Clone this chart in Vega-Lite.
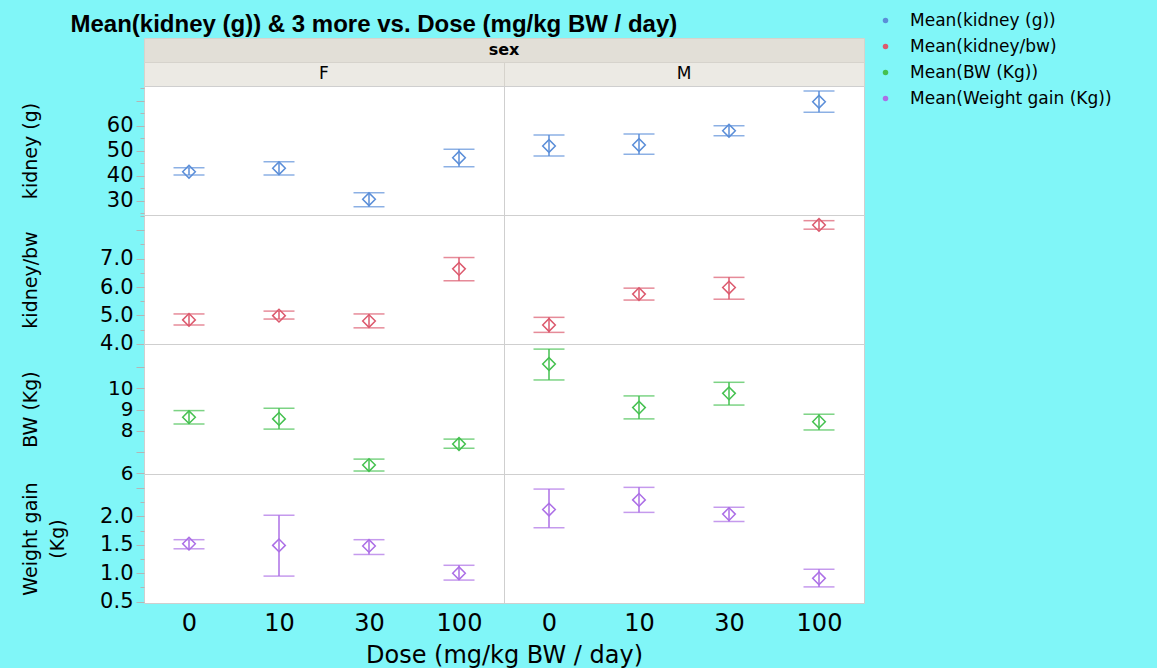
{
  "$schema": "https://vega.github.io/schema/vega-lite/v6.json",
  "background": "#80f6f8",
  "padding": {"left": 20, "top": 12, "right": 45, "bottom": 0},
  "title": {"text": "Mean(kidney (g)) & 3 more vs. Dose (mg/kg BW / day)", "font": "Liberation Sans", "fontSize": 24, "fontWeight": "bold", "color": "black", "anchor": "start", "frame": "bounds", "dx": 50, "offset": -25},
  "data": {"values": [
    {"measure": "Mean(kidney (g))", "sex": "F", "dose": 0, "key": "F-0", "mean": 41.6, "lo": 40.3, "hi": 43.2},
    {"measure": "Mean(kidney (g))", "sex": "F", "dose": 10, "key": "F-10", "mean": 43.0, "lo": 40.3, "hi": 45.6},
    {"measure": "Mean(kidney (g))", "sex": "F", "dose": 30, "key": "F-30", "mean": 30.6, "lo": 27.6, "hi": 33.2},
    {"measure": "Mean(kidney (g))", "sex": "F", "dose": 100, "key": "F-100", "mean": 47.2, "lo": 43.6, "hi": 50.6},
    {"measure": "Mean(kidney (g))", "sex": "M", "dose": 0, "key": "M-0", "mean": 51.9, "lo": 47.9, "hi": 56.3},
    {"measure": "Mean(kidney (g))", "sex": "M", "dose": 10, "key": "M-10", "mean": 52.3, "lo": 48.6, "hi": 56.7},
    {"measure": "Mean(kidney (g))", "sex": "M", "dose": 30, "key": "M-30", "mean": 58.0, "lo": 56.0, "hi": 60.0},
    {"measure": "Mean(kidney (g))", "sex": "M", "dose": 100, "key": "M-100", "mean": 69.6, "lo": 65.4, "hi": 73.9},
    {"measure": "Mean(kidney/bw)", "sex": "F", "dose": 0, "key": "F-0", "mean": 4.84, "lo": 4.66, "hi": 5.05},
    {"measure": "Mean(kidney/bw)", "sex": "F", "dose": 10, "key": "F-10", "mean": 4.99, "lo": 4.87, "hi": 5.15},
    {"measure": "Mean(kidney/bw)", "sex": "F", "dose": 30, "key": "F-30", "mean": 4.80, "lo": 4.56, "hi": 5.05},
    {"measure": "Mean(kidney/bw)", "sex": "F", "dose": 100, "key": "F-100", "mean": 6.64, "lo": 6.22, "hi": 7.04},
    {"measure": "Mean(kidney/bw)", "sex": "M", "dose": 0, "key": "M-0", "mean": 4.66, "lo": 4.40, "hi": 4.93},
    {"measure": "Mean(kidney/bw)", "sex": "M", "dose": 10, "key": "M-10", "mean": 5.75, "lo": 5.54, "hi": 5.96},
    {"measure": "Mean(kidney/bw)", "sex": "M", "dose": 30, "key": "M-30", "mean": 5.98, "lo": 5.57, "hi": 6.34},
    {"measure": "Mean(kidney/bw)", "sex": "M", "dose": 100, "key": "M-100", "mean": 8.19, "lo": 8.04, "hi": 8.34},
    {"measure": "Mean(BW (Kg))", "sex": "F", "dose": 0, "key": "F-0", "mean": 8.64, "lo": 8.32, "hi": 8.95},
    {"measure": "Mean(BW (Kg))", "sex": "F", "dose": 10, "key": "F-10", "mean": 8.56, "lo": 8.08, "hi": 9.06},
    {"measure": "Mean(BW (Kg))", "sex": "F", "dose": 30, "key": "F-30", "mean": 6.39, "lo": 6.11, "hi": 6.67},
    {"measure": "Mean(BW (Kg))", "sex": "F", "dose": 100, "key": "F-100", "mean": 7.38, "lo": 7.18, "hi": 7.61},
    {"measure": "Mean(BW (Kg))", "sex": "M", "dose": 0, "key": "M-0", "mean": 11.14, "lo": 10.39, "hi": 11.84},
    {"measure": "Mean(BW (Kg))", "sex": "M", "dose": 10, "key": "M-10", "mean": 9.09, "lo": 8.56, "hi": 9.64},
    {"measure": "Mean(BW (Kg))", "sex": "M", "dose": 30, "key": "M-30", "mean": 9.76, "lo": 9.21, "hi": 10.28},
    {"measure": "Mean(BW (Kg))", "sex": "M", "dose": 100, "key": "M-100", "mean": 8.43, "lo": 8.04, "hi": 8.78},
    {"measure": "Mean(Weight gain (Kg))", "sex": "F", "dose": 0, "key": "F-0", "mean": 1.52, "lo": 1.43, "hi": 1.59},
    {"measure": "Mean(Weight gain (Kg))", "sex": "F", "dose": 10, "key": "F-10", "mean": 1.49, "lo": 0.95, "hi": 2.02},
    {"measure": "Mean(Weight gain (Kg))", "sex": "F", "dose": 30, "key": "F-30", "mean": 1.48, "lo": 1.33, "hi": 1.59},
    {"measure": "Mean(Weight gain (Kg))", "sex": "F", "dose": 100, "key": "F-100", "mean": 1.00, "lo": 0.88, "hi": 1.14},
    {"measure": "Mean(Weight gain (Kg))", "sex": "M", "dose": 0, "key": "M-0", "mean": 2.12, "lo": 1.80, "hi": 2.48},
    {"measure": "Mean(Weight gain (Kg))", "sex": "M", "dose": 10, "key": "M-10", "mean": 2.29, "lo": 2.07, "hi": 2.51},
    {"measure": "Mean(Weight gain (Kg))", "sex": "M", "dose": 30, "key": "M-30", "mean": 2.04, "lo": 1.91, "hi": 2.16},
    {"measure": "Mean(Weight gain (Kg))", "sex": "M", "dose": 100, "key": "M-100", "mean": 0.91, "lo": 0.76, "hi": 1.07}
  ]},
  "spacing": 0,
  "bounds": "flush",
  "vconcat": [
    {
      "width": 720, "height": 24,
      "data": {"values": [{"h": "sex"}]},
      "view": {"fill": "#e2dfd7", "stroke": "#d6d3cc"},
      "mark": {"type": "text", "font": "DejaVu Sans", "fontSize": 16, "fontWeight": "bold", "color": "black"},
      "encoding": {"text": {"field": "h"}}
    },
    {
      "width": 720, "height": 24,
      "transform": [{"filter": "datum.measure === 'Mean(kidney (g))' && datum.dose === 0"}],
      "view": {"fill": "#eceae4", "stroke": "#d6d3cc"},
      "mark": {"type": "text", "font": "DejaVu Sans", "fontSize": 17, "color": "black"},
      "encoding": {
        "x": {"field": "sex", "type": "nominal", "scale": {"type": "band", "paddingInner": 0, "paddingOuter": 0},
              "axis": {"labels": false, "ticks": false, "domain": false, "title": null, "grid": true, "tickBand": "extent", "gridColor": "#d6d3cc", "gridOpacity": {"condition": {"test": "datum.value === 'F'", "value": 1}, "value": 0}}},
        "text": {"field": "sex"}
      }
    },
    {
      "width": 720, "height": 129,
      "transform": [{"filter": "datum.measure === 'Mean(kidney (g))'"}],
      "layer": [
        {"mark": {"type": "errorbar", "ticks": true, "size": 31, "thickness": 1.5},
         "encoding": {
           "x": {"field": "key", "type": "ordinal", "scale": {"type": "band", "domain": ["F-0","F-10","F-30","F-100","M-0","M-10","M-30","M-100"], "paddingInner": 0, "paddingOuter": 0},
                 "axis": {"labels": false, "ticks": false, "domain": false, "title": null, "grid": true, "tickBand": "extent", "gridColor": "#cfcfcf", "gridOpacity": {"condition": {"test": "datum.value === 'F-100'", "value": 1}, "value": 0}}},
           "y": {"field": "lo", "type": "quantitative", "title": "kidney (g)", "scale": {"domain": [24.3, 75.9], "nice": false, "zero": false},
                 "axis": {"values": [25,30,35,40,45,50,55,60,65,70,75], "tickCount": 50, "format": "d", "labelOverlap": false, "labelExpr": "datum.value % 10 === 0 && datum.value <= 60 ? datum.label : ''",
                          "labelFontSize": {"condition": {"test": "datum.value % 10 === 0 && datum.value <= 60", "value": 21}, "value": 0},
                          "tickSize": {"condition": {"test": "datum.value % 10 === 0", "value": 8}, "value": 4}}},
           "y2": {"field": "hi"},
           "color": {"field": "measure", "type": "nominal", "title": null, "scale": {"domain": ["Mean(kidney (g))", "Mean(kidney/bw)", "Mean(BW (Kg))", "Mean(Weight gain (Kg))"]}}}},
        {"mark": {"type": "point", "shape": "diamond", "filled": false, "size": 160, "strokeWidth": 1.5, "opacity": 1},
         "encoding": {
           "x": {"field": "key", "type": "ordinal"},
           "y": {"field": "mean", "type": "quantitative", "title": "kidney (g)"},
           "color": {"field": "measure", "type": "nominal", "title": null}}}
      ]
    },
    {
      "width": 720, "height": 129,
      "transform": [{"filter": "datum.measure === 'Mean(kidney/bw)'"}],
      "layer": [
        {"mark": {"type": "errorbar", "ticks": true, "size": 31, "thickness": 1.5},
         "encoding": {
           "x": {"field": "key", "type": "ordinal", "scale": {"type": "band", "domain": ["F-0","F-10","F-30","F-100","M-0","M-10","M-30","M-100"], "paddingInner": 0, "paddingOuter": 0},
                 "axis": {"labels": false, "ticks": false, "domain": false, "title": null, "grid": true, "tickBand": "extent", "gridColor": "#cfcfcf", "gridOpacity": {"condition": {"test": "datum.value === 'F-100'", "value": 1}, "value": 0}}},
           "y": {"field": "lo", "type": "quantitative", "title": "kidney/bw", "scale": {"domain": [3.99, 8.54], "nice": false, "zero": false},
                 "axis": {"values": [4,4.5,5,5.5,6,6.5,7,7.5,8,8.5], "tickCount": 50, "format": ".1f", "labelOverlap": false, "labelExpr": "abs(datum.value - round(datum.value)) < 0.01 && datum.value < 7.5 ? datum.label : ''",
                          "labelFontSize": {"condition": {"test": "abs(datum.value - round(datum.value)) < 0.01 && datum.value < 7.5", "value": 21}, "value": 0},
                          "tickSize": {"condition": {"test": "abs(datum.value - round(datum.value)) < 0.01", "value": 8}, "value": 4}}},
           "y2": {"field": "hi"},
           "color": {"field": "measure", "type": "nominal", "title": null}}},
        {"mark": {"type": "point", "shape": "diamond", "filled": false, "size": 160, "strokeWidth": 1.5, "opacity": 1},
         "encoding": {
           "x": {"field": "key", "type": "ordinal"},
           "y": {"field": "mean", "type": "quantitative", "title": "kidney/bw"},
           "color": {"field": "measure", "type": "nominal", "title": null}}}
      ]
    },
    {
      "width": 720, "height": 130,
      "transform": [{"filter": "datum.measure === 'Mean(BW (Kg))'"}],
      "layer": [
        {"mark": {"type": "errorbar", "ticks": true, "size": 31, "thickness": 1.5},
         "encoding": {
           "x": {"field": "key", "type": "ordinal", "scale": {"type": "band", "domain": ["F-0","F-10","F-30","F-100","M-0","M-10","M-30","M-100"], "paddingInner": 0, "paddingOuter": 0},
                 "axis": {"labels": false, "ticks": false, "domain": false, "title": null, "grid": true, "tickBand": "extent", "gridColor": "#cfcfcf", "gridOpacity": {"condition": {"test": "datum.value === 'F-100'", "value": 1}, "value": 0}}},
           "y": {"field": "lo", "type": "quantitative", "title": "BW (Kg)", "scale": {"domain": [5.97, 12.08], "nice": false, "zero": false},
                 "axis": {"values": [6,7,8,9,10,11], "tickCount": 50, "format": "d", "labelOverlap": false, "labelExpr": "datum.value === 7 || datum.value === 11 ? '' : datum.label",
                          "labelFontSize": {"condition": {"test": "datum.value === 7 || datum.value === 11", "value": 0}, "value": 20},
                          "tickSize": 8}},
           "y2": {"field": "hi"},
           "color": {"field": "measure", "type": "nominal", "title": null}}},
        {"mark": {"type": "point", "shape": "diamond", "filled": false, "size": 160, "strokeWidth": 1.5, "opacity": 1},
         "encoding": {
           "x": {"field": "key", "type": "ordinal"},
           "y": {"field": "mean", "type": "quantitative", "title": "BW (Kg)"},
           "color": {"field": "measure", "type": "nominal", "title": null}}}
      ]
    },
    {
      "width": 720, "height": 129,
      "transform": [{"filter": "datum.measure === 'Mean(Weight gain (Kg))'"}],
      "layer": [
        {"mark": {"type": "errorbar", "ticks": true, "size": 31, "thickness": 1.5},
         "encoding": {
           "x": {"field": "key", "type": "ordinal", "title": "Dose (mg/kg BW / day)", "scale": {"type": "band", "domain": ["F-0","F-10","F-30","F-100","M-0","M-10","M-30","M-100"], "paddingInner": 0, "paddingOuter": 0},
                 "axis": {"labelExpr": "split(datum.value, '-')[1]", "labelAngle": 0, "ticks": false, "domain": false, "labelFontSize": 24, "labelPadding": 8, "titleFontSize": 24, "titlePadding": 8, "grid": true, "tickBand": "extent", "gridColor": "#cfcfcf", "gridOpacity": {"condition": {"test": "datum.value === 'F-100'", "value": 1}, "value": 0}}},
           "y": {"field": "lo", "type": "quantitative", "title": ["Weight gain", "(Kg)"], "scale": {"domain": [0.477, 2.745], "nice": false, "zero": false},
                 "axis": {"values": [0.5,0.75,1,1.25,1.5,1.75,2,2.25,2.5], "tickCount": 50, "format": ".1f", "labelOverlap": false, "labelExpr": "abs(datum.value*2 - round(datum.value*2)) < 0.01 && datum.value < 2.25 ? datum.label : ''",
                          "labelFontSize": {"condition": {"test": "abs(datum.value*2 - round(datum.value*2)) < 0.01 && datum.value < 2.25", "value": 21}, "value": 0},
                          "tickSize": {"condition": {"test": "abs(datum.value*2 - round(datum.value*2)) < 0.01", "value": 8}, "value": 4}}},
           "y2": {"field": "hi"},
           "color": {"field": "measure", "type": "nominal", "title": null}}},
        {"mark": {"type": "point", "shape": "diamond", "filled": false, "size": 160, "strokeWidth": 1.5, "opacity": 1},
         "encoding": {
           "x": {"field": "key", "type": "ordinal", "title": "Dose (mg/kg BW / day)"},
           "y": {"field": "mean", "type": "quantitative", "title": ["Weight gain", "(Kg)"]},
           "color": {"field": "measure", "type": "nominal", "title": null}}}
      ]
    }
  ],
  "resolve": {"scale": {"color": "shared"}},
  "config": {
    "view": {"stroke": "#cfcfcf", "fill": "white"},
    "concat": {"spacing": 0},
    "axis": {"labelFont": "DejaVu Sans", "labelColor": "black", "labelFontSize": 21, "tickColor": "#b5b5b5", "domain": false, "grid": false, "titleFont": "DejaVu Sans", "titleFontWeight": "normal", "titleColor": "black", "labelPadding": 3, "labelOverlap": false, "labelBound": false, "labelFlush": false},
    "axisY": {"titleFontSize": 19, "titleBaseline": "top", "titleX": -123, "titleLineHeight": 27},
    "range": {"category": ["#5b8ed8", "#dc5a6e", "#45c150", "#ac6fe6"]},
    "legend": {"orient": "none", "legendX": 733, "legendY": -26, "labelFont": "DejaVu Sans", "labelFontSize": 17, "labelColor": "black", "labelLimit": 0, "symbolType": "circle", "symbolSize": 30, "symbolStrokeWidth": 0, "symbolOpacity": 1, "rowPadding": 8, "labelOffset": 16}
  }
}
